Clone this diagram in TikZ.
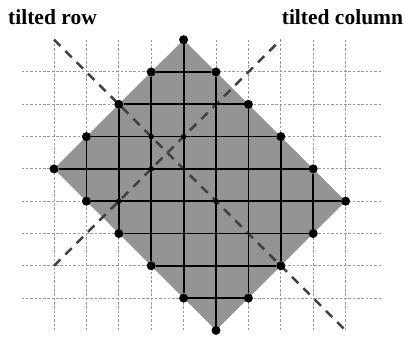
\documentclass[tikz,border=0pt]{standalone}
\usepackage{fontspec}
\setmainfont{Liberation Serif}
\usetikzlibrary{backgrounds}

\begin{document}
\begin{tikzpicture}[x=32.4pt,y=-32.3pt,
 grid/.style={gray!80,line width=1pt,dash pattern=on 2.5pt off 1.8pt},
 tile/.style={fill=black!42},
 edge/.style={line width=1.8pt},
 tilt/.style={black!75,line width=2.5pt,dash pattern=on 9pt off 7pt},
 bigdot/.style={circle,fill,inner sep=0pt,minimum size=9pt},
 smalldot/.style={circle,fill,inner sep=0pt,minimum size=5.5pt},
 lbl/.style={font=\bfseries\fontsize{21.5}{24}\selectfont,inner sep=0pt}]
\useasboundingbox (-1.667,-2.229) rectangle (10.833,8.204);
% corner dots of the tilted tile
\foreach \i/\a in {0/3,1/2,2/1,3/0,4/-1,5/0,6/1,7/2,8/3,9/4}
  \node[bigdot] (t\i) at (\i,\a) {};
\foreach \i/\b in {1/4,2/5,3/6,4/7,5/8,6/7,7/6,8/5}
  \node[bigdot] (b\i) at (\i,\b) {};
% dots where the tilted lines cross the grid
\node[smalldot] (s1) at (3,2) {};
\node[smalldot] (s2) at (4,2) {};
\node[smalldot] (s3) at (3,3) {};
\node[smalldot] (s4) at (2,4) {};
\node[smalldot] (s5) at (5,4) {};
\coordinate (r0) at (0,-1);
\coordinate (r1) at (9,8);
\coordinate (c0) at (0,6);
\coordinate (c1) at (7,-1);
\begin{scope}[on background layer]
\foreach \i in {0,...,9}
  \draw[grid] (\i,-1) -- (\i,8.05);
\foreach \j in {0,...,7}
  \draw[grid] (-1,\j) -- (10.1,\j);
\fill[tile] (t4.center) -- (t0.center) -- (b5.center) -- (t9.center) -- cycle;
\draw[tilt] (r0) -- (r1);
\draw[tilt] (c0) -- (c1);
\end{scope}
% columns and rows of the tile
\foreach \i in {1,...,8}
  \draw[edge] (t\i) -- (b\i);
\foreach \u/\v in {t3/t5,t2/t6,t1/t7,t0/t8,b1/t9,b2/b8,b3/b7,b4/b6}
  \draw[edge] (\u) -- (\v);
\node[lbl,anchor=base west] (rowlbl) at (-1.42,-1.486) {tilted row};
\node[lbl,anchor=base east] (collbl) at (10.78,-1.486) {tilted column};
\end{tikzpicture}
\end{document}
